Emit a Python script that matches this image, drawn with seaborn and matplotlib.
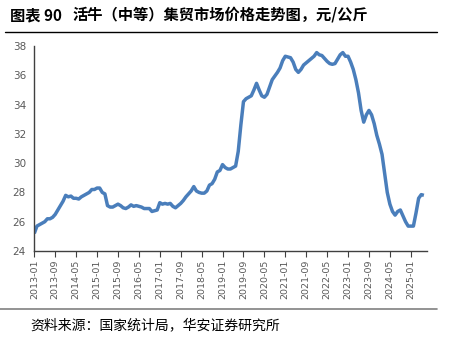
import matplotlib
matplotlib.use("Agg")
import matplotlib.pyplot as plt
import seaborn as sns
import pandas as pd
import numpy as np
from matplotlib.lines import Line2D

# ---- data (monthly, 2013-01 .. 2025-06), 元/公斤 ----
start_month = "2013-01"
prices = [
    # 2013
    25.2, 25.7, 25.8, 25.9, 26.0, 26.2, 26.2, 26.3, 26.5, 26.8, 27.1, 27.4,
    # 2014
    27.8, 27.7, 27.75, 27.6, 27.6, 27.55, 27.7, 27.8, 27.9, 28.0, 28.2, 28.2,
    # 2015
    28.3, 28.3, 28.0, 27.9, 27.1, 27.0, 27.0, 27.1, 27.2, 27.1, 26.95, 26.9,
    # 2016
    27.0, 27.15, 27.05, 27.1, 27.05, 27.0, 26.9, 26.9, 26.9, 26.7, 26.75, 26.8,
    # 2017
    27.3, 27.2, 27.25, 27.2, 27.25, 27.05, 26.95, 27.1, 27.25, 27.45, 27.7, 27.9,
    # 2018
    28.1, 28.4, 28.1, 28.0, 27.95, 27.95, 28.1, 28.5, 28.6, 28.9, 29.4, 29.5,
    # 2019
    29.9, 29.7, 29.6, 29.6, 29.7, 29.8, 30.8, 32.6, 34.2, 34.4, 34.5, 34.6,
    # 2020
    35.0, 35.45, 35.0, 34.6, 34.5, 34.7, 35.2, 35.7, 35.95, 36.2, 36.5, 37.0,
    # 2021
    37.3, 37.25, 37.2, 36.9, 36.4, 36.2, 36.4, 36.7, 36.85, 37.0, 37.15, 37.3,
    # 2022
    37.55, 37.4, 37.35, 37.15, 36.95, 36.8, 36.75, 36.8, 37.1, 37.4, 37.55, 37.3,
    # 2023
    37.3, 36.9, 36.4, 35.7, 34.8, 33.6, 32.8, 33.3, 33.6, 33.3, 32.7, 31.9,
    # 2024
    31.3, 30.6, 29.3, 28.0, 27.2, 26.7, 26.45, 26.7, 26.8, 26.4, 26.0, 25.7,
    # 2025
    25.7, 25.7, 26.6, 27.6, 27.85, 27.8,
]
months = pd.period_range(start_month, periods=len(prices), freq="M")
tick_labels = [str(p) for p in months[::8]]
y_ticks = [24, 26, 28, 30, 32, 34, 36, 38]

title_head = "图表 90"
title_body = "活牛（中等）集贸市场价格走势图，元/公斤"
source_text = "资料来源：国家统计局，华安证券研究所"

df = pd.DataFrame({"idx": np.arange(len(prices)), "price": prices})

sns.set_theme(style="white")
plt.rcParams["font.family"] = ["Noto Sans CJK SC", "DejaVu Sans"]

fig = plt.figure(figsize=(4.49, 3.42), dpi=100)
ax = fig.add_axes([34.3 / 449, 1 - 251 / 342, (427 - 34.3) / 449, (251 - 46) / 342])

sns.lineplot(data=df, x="idx", y="price", ax=ax, color="#4a7ebb",
             linewidth=2.5, solid_capstyle="butt")

ax.set_xlim(0, 150.2)
ax.set_ylim(24, 38)
ax.set_yticks(y_ticks)
ax.set_yticklabels([str(v) for v in y_ticks], fontsize=7.5, color="#595959",
                   family="DejaVu Sans")
ax.set_xticks(np.arange(0, len(prices), 8))
ax.set_xticklabels(tick_labels, rotation=90, fontsize=6.8, color="#595959",
                   family="DejaVu Sans")
ax.set_xlabel("")
ax.set_ylabel("")
ax.tick_params(axis="x", direction="out", length=4, width=0.8, color="#404040", pad=2,
               bottom=True)
ax.tick_params(axis="y", length=0, pad=6)
for s in ["top", "right"]:
    ax.spines[s].set_visible(False)
for s in ["left", "bottom"]:
    ax.spines[s].set_color("#404040")
    ax.spines[s].set_linewidth(1.0)

# title and rules
fig.text(10 / 449, 1 - 15 / 342, title_head, fontsize=11, fontweight="bold",
         ha="left", va="center", color="black")
fig.text(72 / 449, 1 - 15 / 342, title_body, fontsize=11, fontweight="bold",
         ha="left", va="center", color="black")
fig.add_artist(Line2D([5 / 449, 437 / 449], [1 - 32 / 342, 1 - 32 / 342],
                      transform=fig.transFigure, color="black", linewidth=1.0))
fig.add_artist(Line2D([0 / 449, 437 / 449], [1 - 309 / 342, 1 - 309 / 342],
                      transform=fig.transFigure, color="#808080", linewidth=1.2))
fig.text(30 / 449, 1 - 325 / 342, source_text, fontsize=10, ha="left", va="center",
         color="black")

fig.savefig("out.png", dpi=100)
